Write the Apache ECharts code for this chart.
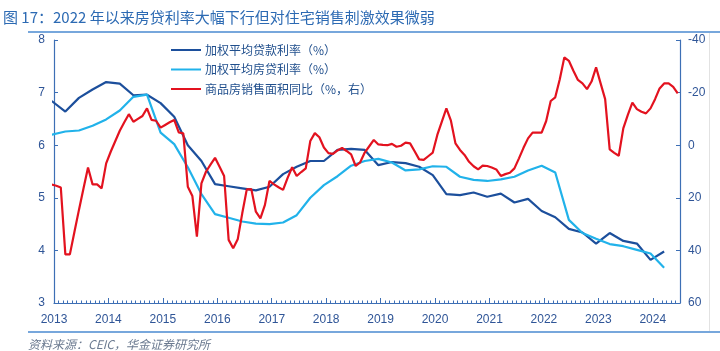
<!DOCTYPE html>
<html><head><meta charset="utf-8">
<script src="https://cdn.jsdelivr.net/npm/echarts@6/dist/echarts.min.js"></script>
<style>html,body{margin:0;padding:0;background:#fff}#c{width:720px;height:351px}</style>
</head><body><div id="c"></div>
<script>
const yearLabels = ['2013','2014','2015','2016','2017','2018','2019','2020','2021','2022','2023','2024'];
const seriesNames = ['加权平均贷款利率（%）','加权平均房贷利率（%）','商品房销售面积同比（%，右）'];
const quarters = ['2012-12',
 '2013-03','2013-06','2013-09','2013-12','2014-03','2014-06','2014-09','2014-12',
 '2015-03','2015-06','2015-09','2015-12','2016-03','2016-06','2016-09','2016-12',
 '2017-03','2017-06','2017-09','2017-12','2018-03','2018-06','2018-09','2018-12',
 '2019-03','2019-06','2019-09','2019-12','2020-03','2020-06','2020-09','2020-12',
 '2021-03','2021-06','2021-09','2021-12','2022-03','2022-06','2022-09','2022-12',
 '2023-03','2023-06','2023-09','2023-12','2024-03'];
const loanRate = [6.84,
 6.64,6.90,7.06,7.20, 7.17,6.95,6.96,6.80,
 6.54,6.00,5.70,5.26, 5.22,5.18,5.14,5.21,
 5.45,5.59,5.70,5.70, 5.91,5.93,5.91,5.62,
 5.68,5.66,5.59,5.43, 5.07,5.05,5.10,5.02,
 5.08,4.91,4.98,4.75, 4.63,4.41,4.34,4.13,
 4.33,4.18,4.13,3.82, 3.98];
const mortgageRate = [6.20,
 6.26,6.28,6.37,6.49, 6.66,6.92,6.96,6.24,
 6.02,5.58,5.07,4.69, 4.62,4.55,4.51,4.50,
 4.53,4.67,5.00,5.24, 5.41,5.61,5.70,5.74,
 5.67,5.52,5.54,5.60, 5.59,5.40,5.34,5.32,
 5.35,5.40,5.52,5.61, 5.48,4.58,4.33,4.22,
 4.12,4.08,4.01,3.94, 3.67];
const salesStart = '2012-12';
const salesYoY = [15.0,
 15.4,16.1,41.5,41.5,33.0,24.6,16.5,8.5,14.9,14.9,16.4,6.9,
 2.5,-1.5,-5.5,-8.7,-11.8,-8.9,-10.0,-11.1,-14.0,-9.6,-9.3,-6.7,
 -7.7,-8.7,-9.6,-4.9,-4.5,15.8,19.3,34.8,14.5,10.1,7.4,4.8,
 8.2,11.7,36.0,39.2,35.8,25.9,16.8,16.7,25.3,27.8,22.7,13.6,
 14.9,16.0,17.0,12.4,8.4,11.7,10.2,8.8,-1.6,-4.6,-3.0,0.9,
 3.0,3.3,2.0,1.0,2.2,3.5,7.9,6.5,2.8,0.4,-2.0,-0.3,
 -0.1,0.0,-0.5,0.6,0.2,-1.0,-0.7,2.3,5.4,5.6,4.2,2.8,
 -3.9,-9.0,-14.0,-9.3,-0.7,1.8,3.7,6.3,8.0,9.2,7.8,7.9,
 8.5,9.2,11.7,11.0,10.5,8.8,5.0,1.0,-2.6,-4.8,-4.8,-4.8,
 -9.2,-16.8,-18.2,-25.1,-33.4,-32.1,-28.3,-24.8,-23.5,-21.3,-24.2,-29.6,
 -23.5,-17.5,1.6,2.9,4.0,-6.4,-11.5,-16.2,-13.7,-12.7,-12.1,-14.0,
 -17.5,-21.6,-23.5,-23.5,-22.2,-19.7];

function monthPos(s){const p=s.split('-').map(Number);return (p[0]-2013)*12+(p[1]-1)+0.5;}
const loanData = quarters.map((q,i)=>[monthPos(q),loanRate[i]]);
const mortData = quarters.map((q,i)=>[monthPos(q),mortgageRate[i]]);
const s0 = monthPos(salesStart);
const salesData = salesYoY.map((v,i)=>[s0+i,v]);

const axisColor = '#3d6fb5';
const labelColor = '#2f5597';
const chart = echarts.init(document.getElementById('c'));
chart.setOption({
  animation:false,
  backgroundColor:'#fff',
  grid:{left:54,right:40,top:40,bottom:48},
  legend:{
    orient:'vertical', left:166, top:39, itemGap:7.5,
    icon:'rect', itemWidth:30, itemHeight:2,
    textStyle:{fontSize:12,color:'#1f4e8c',fontFamily:'Noto Sans CJK SC',padding:[0,0,0,-1]},
    data:seriesNames
  },
  xAxis:[{
    type:'value', min:0, max:138, interval:1, position:'bottom',
    axisLine:{show:true,onZero:false,lineStyle:{color:axisColor,width:1.2}},
    axisTick:{show:true,inside:true,length:2.5,lineStyle:{color:axisColor}},
    axisLabel:{show:false}, splitLine:{show:false}
  },{
    type:'value', min:0, max:138, interval:12, position:'bottom',
    axisLine:{show:false,onZero:false},
    axisTick:{show:true,inside:true,length:5,lineStyle:{color:axisColor}},
    axisLabel:{show:true,margin:11,fontSize:12,color:labelColor,fontFamily:'Liberation Sans',
      formatter:v=>(v%12===0 ? yearLabels[v/12] : '')},
    splitLine:{show:false}
  }],
  yAxis:[{
    type:'value', min:3, max:8, interval:1, position:'left',
    axisLine:{show:true,onZero:false,lineStyle:{color:axisColor,width:1.2}},
    axisTick:{show:true,inside:true,length:4,lineStyle:{color:axisColor}},
    axisLabel:{fontSize:12,color:labelColor,margin:9,fontFamily:'Liberation Sans'},
    splitLine:{show:false}
  },{
    type:'value', min:-40, max:60, interval:20, position:'right', inverse:true,
    axisLine:{show:true,onZero:false,lineStyle:{color:axisColor,width:1.2}},
    axisTick:{show:true,inside:true,length:4,lineStyle:{color:axisColor}},
    axisLabel:{fontSize:12,color:labelColor,margin:8,fontFamily:'Liberation Sans'},
    splitLine:{show:false}
  }],
  series:[
    {name:seriesNames[0],type:'line',data:loanData,symbol:'none',xAxisIndex:0,yAxisIndex:0,
     lineStyle:{color:'#1c4f9c',width:2.2},itemStyle:{color:'#1c4f9c'}},
    {name:seriesNames[1],type:'line',data:mortData,symbol:'none',xAxisIndex:0,yAxisIndex:0,
     lineStyle:{color:'#21b2ea',width:2.2},itemStyle:{color:'#21b2ea'}},
    {name:seriesNames[2],type:'line',data:salesData,symbol:'none',xAxisIndex:0,yAxisIndex:1,
     lineStyle:{color:'#e3121f',width:2.2},itemStyle:{color:'#e3121f'}}
  ],
  graphic:[
    {type:'text',left:3,top:10,style:{text:'图 17：2022 年以来房贷利率大幅下行但对住宅销售刺激效果微弱',
      fontSize:15,fill:'#2c6ab3',fontFamily:'Noto Sans CJK SC'}},
    {type:'line',shape:{x1:28,y1:32,x2:720,y2:32},style:{stroke:'#4a8ad0',lineWidth:1.5}},
    {type:'line',shape:{x1:28,y1:332,x2:720,y2:332},style:{stroke:'#4a8ad0',lineWidth:1.5}},
    {type:'line',shape:{x1:709.5,y1:33,x2:709.5,y2:331},style:{stroke:'#e2e2e2',lineWidth:1}},
    {type:'text',left:28,top:338,style:{text:'资料来源：CEIC，华金证券研究所',
      fontSize:12,fill:'#6b7a90',fontStyle:'italic',fontFamily:'Noto Sans CJK SC'}}
  ]
});
</script></body></html>
